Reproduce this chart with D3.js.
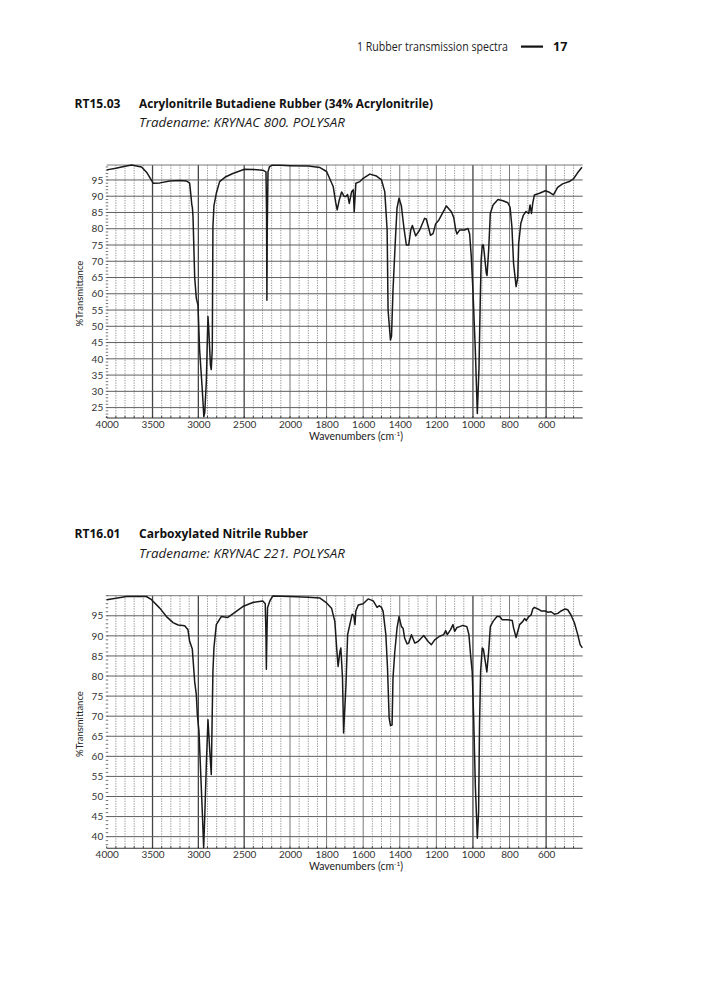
<!DOCTYPE html>
<html>
<head>
<meta charset="utf-8">
<script src="https://cdn.jsdelivr.net/npm/d3@7"></script>
<style>
  body { margin: 0; background: #fff; }
  svg { display: block; }
  .tick-label { font-family: Lato, "DejaVu Sans", sans-serif; font-size: 10px; fill: #333; }
</style>
</head>
<body>
<div id="page"></div>
<script>

// tick labels shared by both spectra
var waveTicks = [4000, 3500, 3000, 2500, 2000, 1800, 1600, 1400, 1200, 1000, 800, 600];
var heavyWaves = [3500, 3000, 2500, 1000, 600];
var yTicksRT15 = [25, 30, 35, 40, 45, 50, 55, 60, 65, 70, 75, 80, 85, 90, 95];
var yTicksRT16 = [40, 45, 50, 55, 60, 65, 70, 75, 80, 85, 90, 95];

// RT15.03 (wavenumber / %T)
var wavesRT15 = [4000, 3900, 3800, 3728, 3620, 3560, 3493, 3420, 3312, 3200, 3130, 3095, 3080, 3072, 3065, 3058,
  3040, 3022, 3004, 2986, 2957, 2940, 2930, 2913, 2900, 2895, 2888, 2878, 2868, 2859, 2848, 2841, 2830, 2804,
  2768, 2700, 2623, 2497, 2400, 2297, 2262, 2256, 2252, 2248, 2240, 2225, 2200, 2100, 2000, 1900, 1836, 1800,
  1764, 1750, 1742, 1730, 1718, 1705, 1694, 1685, 1676, 1663, 1654, 1649, 1644, 1640, 1618, 1600, 1564, 1527,
  1500, 1482, 1469, 1464, 1451, 1445, 1437, 1424, 1415, 1404, 1391, 1378, 1364, 1351, 1340, 1331, 1313, 1291,
  1264, 1255, 1232, 1218, 1204, 1186, 1167, 1145, 1118, 1105, 1094, 1087, 1073, 1045, 1027, 1018, 1009, 1000,
  987, 976, 967, 960, 955, 949, 943, 938, 927, 923, 914, 905, 890, 863, 836, 809, 797, 787, 778, 764, 755, 750,
  738, 724, 710, 695, 688, 680, 673, 664, 636, 604, 582, 560, 537, 510, 473, 451, 428, 404];
var transRT15 = [98.1, 98.6, 99.2, 99.6, 99.0, 97.2, 94.0, 94.1, 94.7, 94.8, 94.7, 94.0, 90.0, 87.5, 86.5, 83.5,
  65.0, 58.6, 56.5, 42.7, 30.4, 22.2, 23.5, 33.0, 48.0, 53.0, 50.0, 44.0, 38.0, 36.7, 43.0, 80.6, 87.0, 90.9,
  94.5, 96.0, 97.0, 98.3, 98.2, 98.0, 97.5, 85.0, 58.0, 80.0, 97.5, 99.0, 99.5, 99.5, 99.4, 99.3, 98.8, 97.6,
  93.0, 88.0, 85.8, 89.0, 91.3, 90.0, 89.9, 90.5, 87.8, 91.4, 92.0, 85.2, 90.0, 94.0, 94.5, 95.5, 96.8, 96.2,
  95.0, 91.4, 79.6, 55.0, 45.8, 47.0, 61.0, 76.5, 86.3, 89.4, 87.0, 80.6, 75.0, 75.0, 79.6, 81.0, 77.8, 79.6,
  83.2, 83.0, 78.0, 78.5, 81.5, 82.7, 84.7, 87.0, 85.2, 83.5, 79.6, 78.4, 79.6, 79.6, 80.1, 78.4, 71.4, 61.0,
  42.7, 23.2, 37.0, 58.0, 70.4, 75.0, 75.0, 72.5, 66.3, 65.6, 73.5, 84.7, 87.3, 89.0, 88.6, 88.0, 86.6, 80.6,
  69.4, 62.2, 65.0, 75.5, 81.7, 84.2, 85.3, 84.7, 87.3, 84.7, 87.9, 90.4, 90.9, 91.7, 91.2, 90.4, 92.7, 93.8,
  94.5, 95.3, 97.2, 98.9];

// RT16.01
var wavesRT16 = [4000, 3783, 3567, 3511, 3421, 3348, 3276, 3221, 3149, 3113, 3095, 3085, 3066, 3040, 3022, 3011,
  2993, 2975, 2957, 2942, 2930, 2913, 2895, 2877, 2859, 2848, 2841, 2830, 2804, 2750, 2678, 2605, 2515, 2406,
  2297, 2270, 2262, 2258, 2252, 2245, 2218, 2188, 2000, 1900, 1836, 1800, 1773, 1755, 1745, 1737, 1727, 1722,
  1713, 1707, 1694, 1685, 1673, 1660, 1651, 1645, 1640, 1627, 1600, 1573, 1545, 1524, 1513, 1500, 1491, 1476,
  1467, 1458, 1451, 1442, 1437, 1427, 1415, 1404, 1391, 1382, 1373, 1360, 1351, 1336, 1318, 1300, 1269, 1245,
  1227, 1209, 1182, 1160, 1149, 1140, 1123, 1109, 1100, 1087, 1073, 1055, 1033, 1022, 1013, 1004, 996, 987,
  976, 969, 964, 958, 949, 943, 931, 924, 914, 905, 890, 869, 854, 840, 809, 785, 778, 764, 755, 745, 727, 718,
  709, 695, 682, 673, 664, 645, 627, 604, 591, 573, 555, 536, 518, 496, 482, 464, 445, 427, 414, 402];
var transRT16 = [99.0, 99.8, 99.8, 99.0, 96.9, 94.8, 93.3, 92.7, 92.5, 91.5, 88.6, 88.0, 86.7, 78.6, 75.3, 70.3,
  66.2, 56.2, 46.2, 37.2, 45.0, 57.9, 69.1, 62.0, 55.5, 71.2, 81.1, 87.0, 92.8, 94.8, 94.6, 95.8, 97.3, 98.3,
  98.7, 98.0, 90.0, 81.7, 90.0, 97.0, 98.8, 99.9, 99.8, 99.6, 99.4, 98.2, 96.9, 93.6, 87.0, 82.4, 86.1, 87.0,
  79.5, 65.8, 77.8, 90.3, 92.8, 95.4, 95.0, 92.8, 96.2, 97.7, 98.0, 99.2, 98.7, 97.1, 97.5, 97.1, 96.1, 90.3,
  82.0, 69.5, 67.7, 67.8, 79.5, 86.1, 91.9, 94.8, 92.3, 91.9, 89.4, 88.0, 88.2, 90.3, 88.2, 88.6, 90.1, 88.6,
  87.8, 89.0, 89.9, 90.3, 91.3, 90.3, 91.5, 92.8, 91.1, 92.1, 92.3, 92.6, 92.3, 90.3, 85.3, 81.1, 69.5, 52.9,
  39.6, 46.2, 67.8, 81.1, 87.0, 86.7, 83.2, 81.0, 86.1, 92.3, 93.6, 94.8, 94.8, 94.0, 94.0, 93.8, 92.0, 89.6,
  91.1, 92.8, 93.6, 94.3, 93.8, 94.8, 95.2, 96.7, 97.1, 96.7, 96.2, 96.2, 95.9, 96.0, 95.4, 95.6, 96.2, 96.7,
  96.5, 95.2, 93.2, 90.3, 87.8, 87.0];


SpectrumChart = function (_svg, _id, _waves, _trans, _yTicks, _box) {
  this.svg = _svg;
  this.id = _id;
  this.data = _waves.map(function (w, i) { return { wave: w, t: _trans[i] }; });
  this.yTicks = _yTicks;
  this.box = _box;
  this.initVis();
};

SpectrumChart.prototype.initVis = function () {
  var vis = this;
  var b = vis.box;

  vis.g = vis.svg.append("g").attr("class", "spectrum " + vis.id);

  // IR plots change scale at 2000 cm-1
  vis.x = d3.scaleLinear()
    .domain([4000, 2000, 400])
    .range([106.7, 290, 582.7]);

  vis.y = d3.scaleLinear()
    .domain([b.yMin, b.yMax])
    .range([b.bottom, b.top]);

  var left = vis.x(4000), right = vis.x(400);

  // minor vertical grid (dotted)
  var minor = d3.range(3900, 2000, -100).concat(d3.range(1950, 400, -50))
    .filter(function (w) { return waveTicks.indexOf(w) < 0; });
  vis.g.append("g").selectAll("line").data(minor).enter().append("line")
    .attr("x1", function (d) { return vis.x(d); })
    .attr("x2", function (d) { return vis.x(d); })
    .attr("y1", b.top).attr("y2", b.bottom)
    .attr("stroke", "#8c8c8c").attr("stroke-width", 0.9)
    .attr("stroke-dasharray", "1.3,1.2");

  // labelled vertical grid
  vis.g.append("g").selectAll("line").data(waveTicks.slice(1)).enter().append("line")
    .attr("x1", function (d) { return vis.x(d); })
    .attr("x2", function (d) { return vis.x(d); })
    .attr("y1", b.top).attr("y2", b.bottom)
    .attr("stroke", function (d) { return heavyWaves.indexOf(d) >= 0 ? "#444" : "#7a7a7a"; })
    .attr("stroke-width", function (d) { return heavyWaves.indexOf(d) >= 0 ? 1.3 : 1; });

  // horizontal grid
  vis.g.append("g").selectAll("line").data(vis.yTicks).enter().append("line")
    .attr("x1", left).attr("x2", right)
    .attr("y1", function (d) { return vis.y(d); })
    .attr("y2", function (d) { return vis.y(d); })
    .attr("stroke", "#606060").attr("stroke-width", 1);

  // top frame line
  vis.g.append("line")
    .attr("x1", left).attr("x2", right)
    .attr("y1", b.top).attr("y2", b.top)
    .attr("stroke", "#7a7a7a").attr("stroke-width", 1);

  // dotted minor ticks on the left edge, one per %T
  var yMinor = d3.range(Math.ceil(b.yMin), Math.floor(b.yMax) + 1);
  vis.g.append("g").selectAll("line").data(yMinor).enter().append("line")
    .attr("x1", left - 1).attr("x2", left + 1.5)
    .attr("y1", function (d) { return vis.y(d); })
    .attr("y2", function (d) { return vis.y(d); })
    .attr("stroke", "#555").attr("stroke-width", 0.8);

  // bottom line + small ticks
  vis.g.append("line")
    .attr("x1", left).attr("x2", right)
    .attr("y1", b.bottom).attr("y2", b.bottom)
    .attr("stroke", "#333").attr("stroke-width", 1.1);
  vis.g.append("g").selectAll("line").data(minor.concat(waveTicks)).enter().append("line")
    .attr("x1", function (d) { return vis.x(d); })
    .attr("x2", function (d) { return vis.x(d); })
    .attr("y1", b.bottom - 2).attr("y2", b.bottom)
    .attr("stroke", "#333").attr("stroke-width", 0.9);

  // axes, labels only
  vis.xAxis = d3.axisBottom(vis.x).tickValues(waveTicks).tickSize(0).tickPadding(2.5)
    .tickFormat(d3.format("d"));
  vis.yAxis = d3.axisLeft(vis.y).tickValues(vis.yTicks).tickSize(0).tickPadding(3.5);

  vis.g.append("g")
    .attr("transform", "translate(0," + b.bottom + ")")
    .call(vis.xAxis)
    .call(function (g) { g.select(".domain").remove(); })
    .selectAll("text").attr("class", "tick-label").attr("fill", null);

  vis.g.append("g")
    .attr("transform", "translate(" + left + ",0)")
    .call(vis.yAxis)
    .call(function (g) { g.select(".domain").remove(); })
    .selectAll("text").attr("class", "tick-label").attr("fill", null);

  var xl = vis.g.append("text")
    .attr("x", 356).attr("y", b.bottom + 21.5)
    .attr("text-anchor", "middle")
    .attr("font-family", "Lato, 'DejaVu Sans', sans-serif")
    .attr("font-size", 10.5).attr("fill", "#222")
    .text("Wavenumbers (cm");
  xl.append("tspan").attr("dy", -3.5).attr("font-size", 6.5).text("-1");
  xl.append("tspan").attr("dy", 3.5).text(")");

  vis.g.append("text")
    .attr("transform", "translate(83.3," + ((b.top + b.bottom) / 2 + 2) + ") rotate(-90)")
    .attr("text-anchor", "middle")
    .attr("font-family", "Lato, 'DejaVu Sans', sans-serif")
    .attr("font-size", 9.5).attr("fill", "#222")
    .text("%Transmittance");

  vis.svg.append("clipPath").attr("id", "clip-" + vis.id)
    .append("rect")
    .attr("x", left - 1).attr("y", b.top - 3)
    .attr("width", right - left + 2).attr("height", b.bottom - b.top + 3);

  vis.updateVis();
};

SpectrumChart.prototype.updateVis = function () {
  var vis = this;

  var line = d3.line()
    .x(function (d) { return vis.x(d.wave); })
    .y(function (d) { return vis.y(d.t); });

  vis.g.append("path")
    .datum(vis.data)
    .attr("clip-path", "url(#clip-" + vis.id + ")")
    .attr("fill", "none")
    .attr("stroke", "#1a1a1a")
    .attr("stroke-width", 1.5)
    .attr("stroke-linejoin", "round")
    .attr("d", line);
};


var svg = d3.select("#page").append("svg")
  .attr("width", 708)
  .attr("height", 1000);

var sans = "'Open Sans', 'Noto Sans', sans-serif";

// running head
svg.append("text")
  .attr("x", 357).attr("y", 50.7)
  .attr("font-family", sans).attr("font-size", 12).attr("fill", "#222")
  .attr("textLength", 151).attr("lengthAdjust", "spacingAndGlyphs")
  .text("1 Rubber transmission spectra");
svg.append("line")
  .attr("x1", 521).attr("x2", 543).attr("y1", 46.6).attr("y2", 46.6)
  .attr("stroke", "#111").attr("stroke-width", 2.2);
svg.append("text")
  .attr("x", 553).attr("y", 50.7)
  .attr("font-family", sans).attr("font-size", 12.5).attr("font-weight", 700).attr("fill", "#111")
  .text("17");

function addTitle(code, name, nameWidth, trade, y) {
  svg.append("text")
    .attr("x", 74.5).attr("y", y)
    .attr("font-family", sans).attr("font-size", 12.5).attr("font-weight", 700).attr("fill", "#111")
    .attr("textLength", 46).attr("lengthAdjust", "spacingAndGlyphs")
    .text(code);
  svg.append("text")
    .attr("x", 139).attr("y", y)
    .attr("font-family", sans).attr("font-size", 12.5).attr("font-weight", 700).attr("fill", "#111")
    .attr("textLength", nameWidth).attr("lengthAdjust", "spacingAndGlyphs")
    .text(name);
  svg.append("text")
    .attr("x", 139).attr("y", y + 19.2)
    .attr("font-family", sans).attr("font-size", 12.5).attr("font-style", "italic").attr("fill", "#1a1a1a")
    .attr("textLength", 206).attr("lengthAdjust", "spacingAndGlyphs")
    .text(trade);
}

addTitle("RT15.03", "Acrylonitrile Butadiene Rubber (34% Acrylonitrile)", 294, "Tradename: KRYNAC 800. POLYSAR", 107.5);
addTitle("RT16.01", "Carboxylated Nitrile Rubber", 169, "Tradename: KRYNAC 221. POLYSAR", 538.3);

var rt15 = new SpectrumChart(svg, "rt15", wavesRT15, transRT15, yTicksRT15,
  { top: 165, bottom: 418, yMin: 21.8, yMax: 99.6 });
var rt16 = new SpectrumChart(svg, "rt16", wavesRT16, transRT16, yTicksRT16,
  { top: 595.7, bottom: 848.3, yMin: 37.1, yMax: 100 });

</script>
</body>
</html>
